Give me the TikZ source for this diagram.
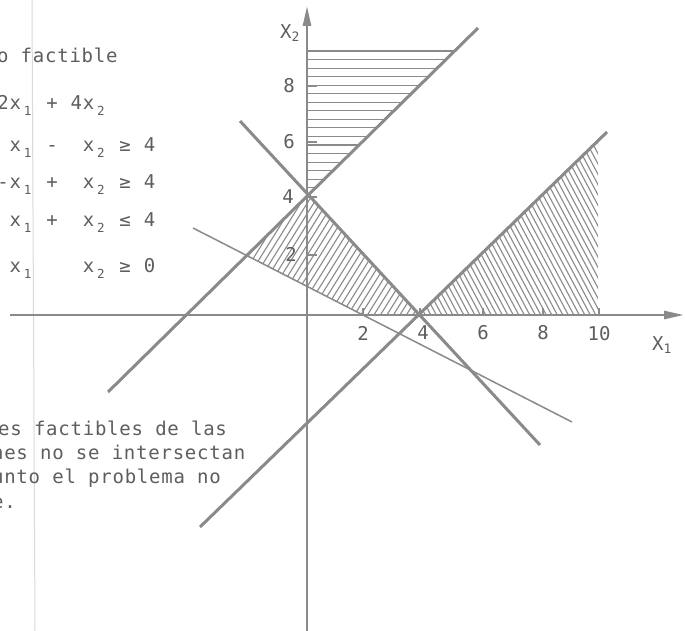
\documentclass[tikz,border=0pt]{standalone}
\usepackage{fontspec}
\newfontfamily\twp{DejaVu Sans Mono}
\newfontfamily\tw[LetterSpace=4]{DejaVu Sans Mono}
\usetikzlibrary{arrows.meta}
\definecolor{ink}{HTML}{8A8A8A}
\definecolor{txt}{HTML}{5E5E5E}
\definecolor{rulecol}{HTML}{DADADA}
\newcommand\cl[1]{\makebox[12.2bp][c]{#1}}
\newcommand\lsub[1]{\cl{\raisebox{-6bp}{\fontsize{12.5bp}{12.5bp}\selectfont #1}}}
\tikzset{
  eqn/.style={inner sep=0pt, anchor=base west, text=txt, font=\fontsize{19bp}{20bp}\twp},
  prose/.style={inner sep=0pt, anchor=base west, text=txt, font=\fontsize{19bp}{20bp}\tw},
  ticklab/.style={inner sep=0pt, text=txt, font=\fontsize{19bp}{20bp}\twp},
  axisline/.style={draw=ink, line width=2.6bp},
  heavy/.style={draw=ink, line width=3bp},
  light/.style={draw=ink, line width=1.5bp},
  hatchline/.style={draw=ink, line width=1.1bp},
  tickmark/.style={draw=ink, line width=1.6bp},
  tip/.style={-{Triangle[length=20bp,width=8bp]}}
}
\begin{document}
\begin{tikzpicture}[x=1bp,y=-1bp]
\useasboundingbox (0,0) rectangle (685,631);
\fill[white] (0,0) rectangle (685,631);
% faint column rule of the page
\draw[rulecol, line width=1bp] (32,0) -- (35,631);

% key points
\coordinate (ytop) at (307,6);
\coordinate (ybot) at (307,631);
\coordinate (xl) at (10,315);
\coordinate (xr) at (684,315);
\coordinate (a1) at (607,132);
\coordinate (a2) at (200,527);
\coordinate (b1) at (478,28);
\coordinate (b2) at (108,392);
\coordinate (c1) at (240,121);
\coordinate (c2) at (540,445);
\coordinate (d1) at (193,228);
\coordinate (d2) at (572,422);
\coordinate (r1) at (598,0);
\coordinate (r2) at (598,600);
\coordinate (v4) at (intersection of b1--b2 and c1--c2);
\coordinate (cx) at (intersection of c1--c2 and xl--xr);
\coordinate (dx) at (intersection of d1--d2 and xl--xr);
\coordinate (bd) at (intersection of b1--b2 and d1--d2);
\coordinate (ax) at (intersection of a1--a2 and xl--xr);
\coordinate (ar) at (intersection of a1--a2 and r1--r2);
\coordinate (rb) at (intersection of r1--r2 and xl--xr);

% top hatching (horizontal)
\foreach \k [evaluate=\k as \yy using 51+8.55*\k] in {0,...,16}
  \draw[hatchline] (307,\yy) -- ({478-(\yy-28)*1.01648},\yy);

% right hatching
\begin{scope}
  \clip (ax) -- (rb) -- (ar) -- cycle;
  \foreach \k in {0,...,56}
    \draw[hatchline] ({300+\k*5.5},100) -- ++({250*cos(62)},{250*sin(62)});
\end{scope}

% left hatching
\begin{scope}
  \clip (v4) -- (cx) -- (dx) -- (bd) -- cycle;
  \foreach \k in {0,...,44}
    \draw[hatchline] ({150+\k*6.5},330) -- ++({200*cos(58)},{-200*sin(58)});
\end{scope}

% constraint lines
\draw[heavy] (a1) -- (a2);
\draw[heavy] (b1) -- (b2);
\draw[heavy] (c1) -- (c2);
\draw[light] (d1) -- (d2);

% axes
\draw[axisline, tip] (ybot) -- (ytop);
\draw[axisline, tip] (xl) -- (xr);

% ticks
\foreach \x in {363,420,483,543,599}
  \draw[tickmark] (\x,315) -- (\x,308);
\foreach \y in {86,142,197,255}
  \draw[tickmark] (307,\y) -- (317,\y);

% tick labels
\node[ticklab] (lx2) at (363,333) {2};
\node[ticklab] (lx4) at (423,333) {4};
\node[ticklab] (lx6) at (483,333) {6};
\node[ticklab] (lx8) at (543,333) {8};
\node[ticklab] (lx10) at (599,334) {10};
\node[ticklab] (ly8) at (289,86) {8};
\node[ticklab] (ly6) at (289,142) {6};
\node[ticklab] (ly4) at (288,197) {4};
\node[ticklab] (ly2) at (291,254) {2};
\node[ticklab, anchor=base west] (X1) at (652,350) {X\raisebox{-3bp}{\fontsize{13bp}{13bp}\selectfont 1}};
\node[ticklab, anchor=base west] (X2) at (280,39) {X\raisebox{-3bp}{\fontsize{13bp}{13bp}\selectfont 2}};

% left text
\node[prose] (t1) at (-3.1,63) {o factible};
\node[eqn] (e0) at (-3.1,110) {\cl{2}\cl{x}\lsub{1}\cl{}\cl{+}\cl{}\cl{4}\cl{x}\lsub{2}};
\node[eqn] (e1) at (-3.1,152) {\cl{}\cl{x}\lsub{1}\cl{}\cl{-}\cl{}\cl{}\cl{x}\lsub{2}\cl{}\cl{≥}\cl{}\cl{4}};
\node[eqn] (e2) at (-3.1,189) {\cl{-}\cl{x}\lsub{1}\cl{}\cl{+}\cl{}\cl{}\cl{x}\lsub{2}\cl{}\cl{≥}\cl{}\cl{4}};
\node[eqn] (e3) at (-3.1,226) {\cl{}\cl{x}\lsub{1}\cl{}\cl{+}\cl{}\cl{}\cl{x}\lsub{2}\cl{}\cl{≤}\cl{}\cl{4}};
\node[eqn] (e4) at (-3.1,272) {\cl{}\cl{x}\lsub{1}\cl{}\cl{}\cl{}\cl{}\cl{x}\lsub{2}\cl{}\cl{≥}\cl{}\cl{0}};

\node[prose] (pa) at (-2,435) {es factibles de las};
\node[prose] (pb) at (-8.1,459) {nes no se intersectan};
\node[prose] (pc) at (-8.1,483) {unto el problema no};
\node[prose] (pd) at (-8.1,508) {e.};
\end{tikzpicture}
\end{document}
